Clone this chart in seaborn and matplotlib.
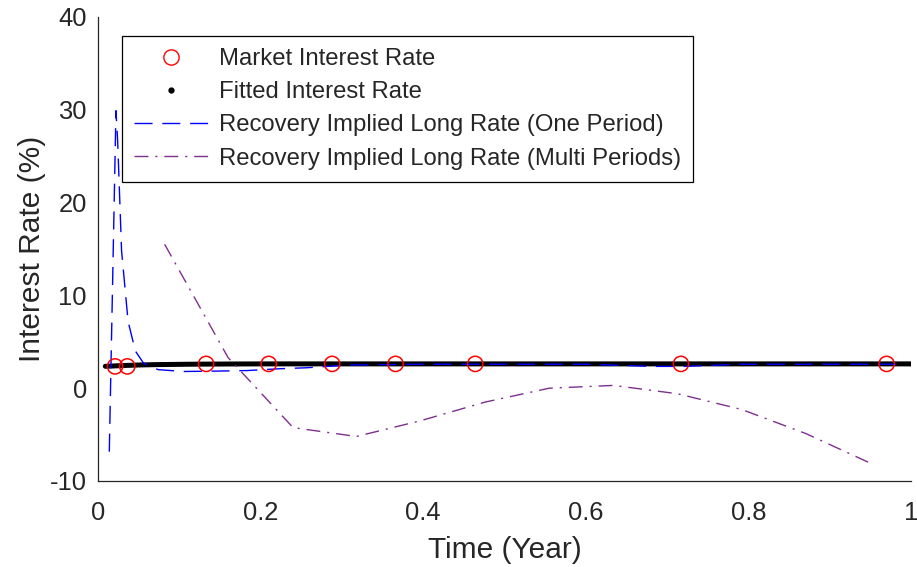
import numpy as np
import pandas as pd
import matplotlib
matplotlib.use("Agg")
import matplotlib.pyplot as plt
from matplotlib.lines import Line2D
import seaborn as sns

# ---- data ----
market_t = [0.021, 0.036, 0.133, 0.210, 0.288, 0.366, 0.464, 0.717, 0.970]
market_r = [2.35, 2.35, 2.62, 2.62, 2.62, 2.62, 2.62, 2.62, 2.62]

fitted_t = [0.009, 0.015, 0.02, 0.03, 0.04, 0.05, 0.06, 0.07, 0.08, 0.10,
            0.12, 0.14, 0.17, 0.20, 0.25, 0.30, 0.35, 0.40, 0.45, 0.50,
            0.55, 0.60, 0.65, 0.70, 0.75, 0.80, 0.85, 0.90, 0.95, 1.00]
fitted_r = [2.36, 2.38, 2.40, 2.44, 2.47, 2.50, 2.52, 2.54, 2.55, 2.57,
            2.59, 2.60, 2.61, 2.62, 2.62, 2.62, 2.62, 2.62, 2.62, 2.62,
            2.62, 2.62, 2.62, 2.62, 2.62, 2.62, 2.62, 2.62, 2.62, 2.62]

one_t = [0.0139, 0.0221, 0.0242, 0.029, 0.037, 0.046, 0.056, 0.074, 0.105,
         0.15, 0.183, 0.224, 0.256, 0.31, 0.40, 0.60, 0.683, 0.72, 0.79, 0.99]
one_r = [-6.84, 29.9, 26.6, 14.8, 7.2, 4.0, 2.7, 2.0, 1.8,
         1.85, 1.9, 2.1, 2.2, 2.5, 2.58, 2.58, 2.35, 2.35, 2.58, 2.58]

multi_t = [0.082, 0.160, 0.240, 0.318, 0.397, 0.476, 0.555, 0.634,
           0.713, 0.792, 0.871, 0.953]
multi_r = [15.5, 3.3, -4.25, -5.2, -3.5, -1.5, 0.0, 0.3,
           -0.6, -2.3, -4.9, -8.2]

labels = ["Market Interest Rate", "Fitted Interest Rate",
          "Recovery Implied Long Rate (One Period)",
          "Recovery Implied Long Rate (Multi Periods)"]
x_ticks = [0, 0.2, 0.4, 0.6, 0.8, 1]
x_ticklabels = ["0", "0.2", "0.4", "0.6", "0.8", "1"]
y_ticks = [-10, 0, 10, 20, 30, 40]
y_ticklabels = ["-10", "0", "10", "20", "30", "40"]

# ---- style ----
sns.set_theme(style="white")
plt.rcParams["font.family"] = ["Liberation Sans", "DejaVu Sans"]
axis_col = "#262626"

df_market = pd.DataFrame({"t": market_t, "r": market_r})
df_fit = pd.DataFrame({"t": fitted_t, "r": fitted_r})
df_one = pd.DataFrame({"t": one_t, "r": one_r})
df_multi = pd.DataFrame({"t": multi_t, "r": multi_r})

fig = plt.figure(figsize=(9.17, 5.67), dpi=100)
ax = fig.add_axes([98 / 917, 1 - 481 / 567, 813 / 917, 464 / 567])

blue = "#0000ff"
purple = "#7e2f8e"

sns.lineplot(data=df_fit, x="t", y="r", ax=ax, color="black", lw=3.6,
             sort=False, zorder=2)
sns.lineplot(data=df_one, x="t", y="r", ax=ax, color=blue, lw=1.0,
             sort=False, zorder=3)
ax.lines[-1].set_dashes((13, 7))
sns.lineplot(data=df_multi, x="t", y="r", ax=ax, color=purple, lw=1.0,
             sort=False, zorder=3)
ax.lines[-1].set_dashes((10, 5, 1.5, 5))
sns.scatterplot(data=df_market, x="t", y="r", ax=ax, s=120,
                facecolors="none", edgecolor="red", linewidth=1.1, zorder=4)
ax.collections[-1].set_facecolor("none")
ax.collections[-1].set_edgecolor("red")

ax.set_xlim(0, 1)
ax.set_ylim(-10, 40)
ax.set_xticks(x_ticks)
ax.set_xticklabels(x_ticklabels)
ax.set_yticks(y_ticks)
ax.set_yticklabels(y_ticklabels)

for s in ["top", "right"]:
    ax.spines[s].set_visible(False)
for s in ["left", "bottom"]:
    ax.spines[s].set_color(axis_col)
    ax.spines[s].set_linewidth(0.9)

ax.tick_params(axis="both", direction="in", length=5.8, width=0.8,
               colors=axis_col, labelsize=18.4)
ax.tick_params(axis="x", pad=14.5)
ax.tick_params(axis="y", pad=8)

ax.set_xlabel("Time (Year)", fontsize=21.5, color=axis_col, labelpad=8)
ax.set_ylabel("Interest Rate (%)", fontsize=21.5, color=axis_col, labelpad=3)

handles = [
    Line2D([], [], color="red", marker="o", markerfacecolor="none",
           markersize=11, markeredgewidth=1.0, linestyle="None"),
    Line2D([], [], color="black", marker=".", markersize=7, linestyle="None"),
    Line2D([], [], color=blue, lw=1.0, dashes=(13, 7)),
    Line2D([], [], color=purple, lw=1.0, dashes=(10, 5, 1.5, 5)),
]
leg = ax.legend(handles, labels, loc="upper left",
                bbox_to_anchor=(24 / 813, (481 - 36) / 464),
                borderaxespad=0, fontsize=17.2, frameon=True, fancybox=False,
                edgecolor="black", framealpha=1, handlelength=3.1,
                handletextpad=0.45, borderpad=0.5, labelspacing=0.47)
leg.get_frame().set_linewidth(0.9)

fig.savefig("out.png", dpi=100)
